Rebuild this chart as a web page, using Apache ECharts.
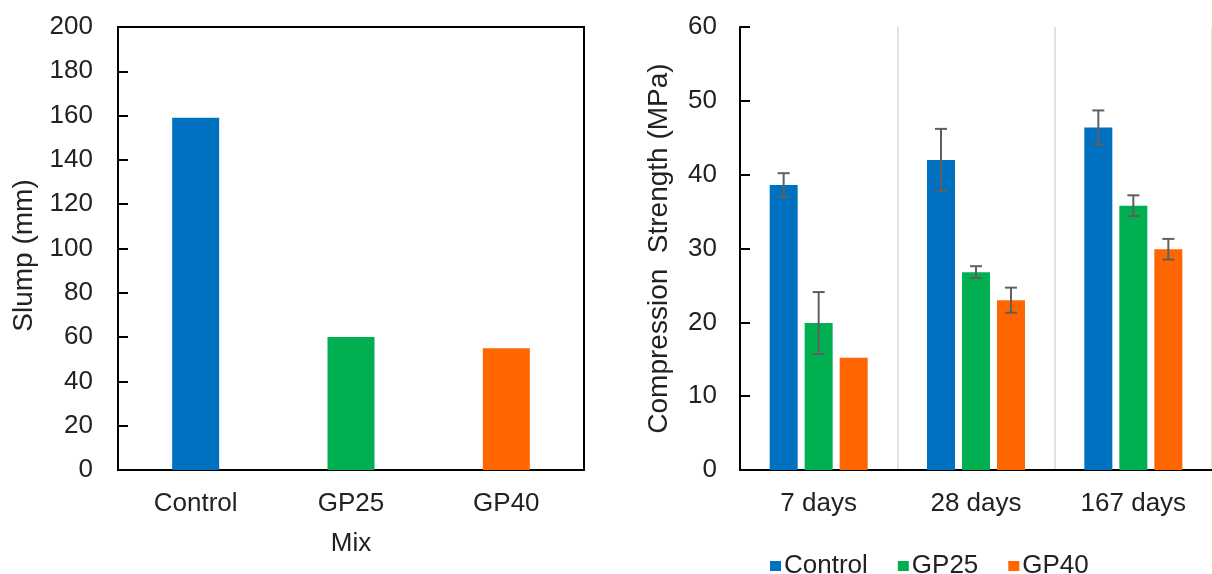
<!DOCTYPE html>
<html>
<head>
<meta charset="utf-8">
<script src="https://cdn.jsdelivr.net/npm/echarts@6/dist/echarts.min.js"></script>
<style>
html,body{margin:0;padding:0;background:#fff;}
#c{width:1212px;height:574px;}
</style>
</head>
<body>
<div id="c"></div>
<script>
// ---- data ----
const mixCategories = ['Control', 'GP25', 'GP40'];
const slumpValues = [159, 60, 55];
const slumpTicks = [0, 20, 40, 60, 80, 100, 120, 140, 160, 180, 200];

const ageCategories = ['7 days', '28 days', '167 days'];
const seriesNames = ['Control', 'GP25', 'GP40'];
const controlStrength = [38.6, 42.0, 46.4];
const gp25Strength = [19.9, 26.8, 35.8];
const gp40Strength = [15.2, 23.0, 29.9];
const controlErr = [1.6, 4.2, 2.3];
const gp25Err = [4.2, 0.8, 1.4];
const gp40Err = [null, 1.7, 1.4];
const strengthTicks = [0, 10, 20, 30, 40, 50, 60];

const colors = ['#0070C0', '#00B050', '#FF6600'];
const FONT = 'Liberation Sans, Arial, sans-serif';
const FS = 26;
const NAME_FS = 28;
const TXT = '#222';

const BAR_W = 28;
const BAR_GAP = 0.25;

const strengths = [controlStrength, gp25Strength, gp40Strength];
const errs = [controlErr, gp25Err, gp40Err];

const chart = echarts.init(document.getElementById('c'), null, {renderer: 'canvas'});

function errSeries(si) {
  const data = [];
  strengths[si].forEach((v, ci) => {
    const e = errs[si][ci];
    if (e != null) data.push([ci, v - e, v + e]);
  });
  return {
    type: 'custom',
    name: seriesNames[si] + ' err',
    xAxisIndex: 1, yAxisIndex: 1,
    z: 10,
    silent: true,
    data: data,
    encode: {x: 0, y: [1, 2]},
    renderItem: function (params, api) {
      const c = api.value(0);
      const lo = api.coord([c, api.value(1)]);
      const hi = api.coord([c, api.value(2)]);
      const off = (si - 1) * BAR_W * (1 + BAR_GAP);
      const x = lo[0] + off;
      const cap = 6;
      const st = {stroke: '#5f5f5f', lineWidth: 2};
      return {
        type: 'group',
        children: [
          {type: 'line', shape: {x1: x, y1: lo[1], x2: x, y2: hi[1]}, style: st},
          {type: 'line', shape: {x1: x - cap, y1: lo[1], x2: x + cap, y2: lo[1]}, style: st},
          {type: 'line', shape: {x1: x - cap, y1: hi[1], x2: x + cap, y2: hi[1]}, style: st}
        ]
      };
    }
  };
}

const option = {
  animation: false,
  textStyle: {fontFamily: FONT},
  grid: [
    {left: 118, top: 27, right: 628, bottom: 104, show: true, borderColor: '#000', borderWidth: 2, backgroundColor: 'transparent'},
    {left: 740, top: 27, right: -2, bottom: 104}
  ],
  legend: {
    data: seriesNames,
    left: 765, top: 548,
    icon: 'rect', itemWidth: 11, itemHeight: 10, itemGap: 30,
    textStyle: {fontSize: FS, color: TXT, fontFamily: FONT, padding: [0, 0, 0, -2]}
  },
  xAxis: [
    {
      type: 'category', gridIndex: 0, data: mixCategories,
      axisLine: {lineStyle: {color: '#000', width: 2}},
      axisTick: {show: false},
      axisLabel: {fontSize: FS, color: TXT, margin: 21, fontFamily: FONT},
      name: 'Mix', nameLocation: 'middle', nameGap: 61,
      nameTextStyle: {fontSize: FS, color: TXT, fontFamily: FONT}
    },
    {
      type: 'category', gridIndex: 1, data: ageCategories,
      axisLine: {lineStyle: {color: '#000', width: 2}},
      axisTick: {show: false},
      splitLine: {show: true, lineStyle: {color: '#d9d9d9', width: 1.5}},
      axisLabel: {fontSize: FS, color: TXT, margin: 21, fontFamily: FONT}
    }
  ],
  yAxis: [
    {
      type: 'value', gridIndex: 0, min: slumpTicks[0], max: slumpTicks[slumpTicks.length - 1], interval: slumpTicks[1] - slumpTicks[0],
      axisLine: {show: true, lineStyle: {color: '#000', width: 2}},
      axisTick: {show: true, inside: true, length: 10, lineStyle: {color: '#000', width: 2}},
      splitLine: {show: false},
      axisLabel: {fontSize: FS, color: TXT, margin: 25, fontFamily: FONT},
      name: 'Slump (mm)', nameLocation: 'middle', nameGap: 80,
      nameTextStyle: {fontSize: NAME_FS, color: TXT, fontFamily: FONT, padding: [0, 14, 0, 0]}
    },
    {
      type: 'value', gridIndex: 1, min: strengthTicks[0], max: strengthTicks[strengthTicks.length - 1], interval: strengthTicks[1] - strengthTicks[0],
      axisLine: {show: true, lineStyle: {color: '#000', width: 2}},
      axisTick: {show: true, inside: true, length: 10, lineStyle: {color: '#000', width: 2}},
      splitLine: {show: false},
      axisLabel: {fontSize: FS, color: TXT, margin: 23, fontFamily: FONT},
      name: 'Compression  Strength (MPa)', nameLocation: 'middle', nameGap: 67,
      nameTextStyle: {fontSize: NAME_FS, color: TXT, fontFamily: FONT}
    }
  ],
  series: [
    {
      type: 'bar', name: 'Slump', xAxisIndex: 0, yAxisIndex: 0,
      barWidth: 47,
      data: slumpValues.map((v, i) => ({value: v, itemStyle: {color: colors[i]}}))
    },
    ...seriesNames.map((n, si) => ({
      type: 'bar', name: n, xAxisIndex: 1, yAxisIndex: 1,
      barWidth: BAR_W, barGap: (BAR_GAP * 100) + '%',
      itemStyle: {color: colors[si]},
      data: strengths[si]
    })),
    errSeries(0), errSeries(1), errSeries(2)
  ]
};
chart.setOption(option);
</script>
</body>
</html>
